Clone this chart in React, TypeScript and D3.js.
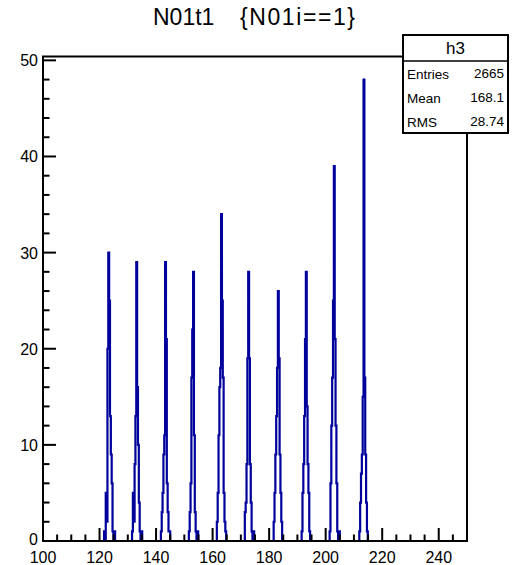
import React from "react";
import * as d3 from "d3";

// ---- data ----
const xDomain = [100, 250];
const yMaxValue = 50.4;
const binWidth = 0.3;
const xTicksMajor = [100, 120, 140, 160, 180, 200, 220, 240];
const yTicksMajor = [0, 10, 20, 30, 40, 50];

const peakStarts = [121.5, 131.5, 141.6, 151.5, 161.5, 171.3, 181.5, 191.5, 201.5, 211.8];
const peak1 = [1, 0, 5, 2, 20, 30, 25, 13, 9, 6, 1, 0, 1];
const peak2 = [1, 5, 2, 8, 13, 29, 16, 10, 4, 1, 0, 1];
const peak3 = [1, 3, 5, 9, 11, 29, 21, 6, 3, 1, 1];
const peak4 = [1, 3, 6, 17, 22, 28, 11, 3, 1, 0, 1];
const peak5 = [2, 5, 11, 16, 18, 34, 25, 17, 5, 2, 1];
const peak6 = [3, 4, 8, 19, 28, 19, 8, 4, 1, 0, 1];
const peak7 = [2, 5, 9, 13, 18, 26, 19, 9, 5, 2];
const peak8 = [1, 5, 8, 13, 21, 28, 14, 8, 5, 1];
const peak9 = [1, 6, 12, 17, 25, 39, 21, 12, 6, 1, 0, 1];
const peak10 = [1, 4, 7, 9, 15, 48, 17, 9, 4, 1];
const peaks = [peak1, peak2, peak3, peak4, peak5, peak6, peak7, peak8, peak9, peak10];

const titleLeft = "N01t1";
const titleRight = "{N01i==1}";
const statsName = "h3";
const statsLabels = ["Entries", "Mean", "RMS"];
const statsValues = ["2665", "168.1", "28.74"];

// ---- layout ----
const W = 514;
const H = 565;
const fL = 43, fR = 467, fT = 56.5, fB = 541;
const FONT = "Liberation Sans, Arimo, Helvetica, Arial, sans-serif";
const BLUE = "#00009c";

export default function App() {
  const x = d3.scaleLinear().domain(xDomain).range([fL, fR]);
  const y = d3.scaleLinear().domain([0, yMaxValue]).range([fB, fT]);

  const nBins = Math.round((xDomain[1] - xDomain[0]) / binWidth);
  const counts: number[] = new Array(nBins).fill(0);
  peaks.forEach((arr, p) => {
    const s = Math.round((peakStarts[p] - xDomain[0]) / binWidth);
    arr.forEach((v, i) => {
      counts[s + i] = v;
    });
  });
  const pts: [number, number][] = counts.map((c, i) => [xDomain[0] + i * binWidth, c]);
  pts.push([xDomain[1], counts[nBins - 1]]);
  const line = d3
    .line<[number, number]>()
    .x((d) => x(d[0]))
    .y((d) => y(d[1]))
    .curve(d3.curveStepAfter);

  const xMinor = d3.range(100, 250.01, 5).filter((v) => v % 20 !== 0);
  const yMinor = d3.range(0, 50.01, 2).filter((v) => v % 10 !== 0);

  const boxL = 403, boxR = 508, boxT = 35, boxB = 133, sep = 61;

  return (
    <svg width={W} height={H} style={{ position: "absolute", left: 0, top: 0, background: "#fff", fontFamily: FONT }}>
      <rect x={0} y={0} width={W} height={H} fill="#fff" />
      <defs>
        <clipPath id="frameClip">
          <rect x={fL} y={fT - 2} width={fR - fL} height={fB - fT + 2} />
        </clipPath>
      </defs>
      <text x={153} y={25} style={{ fontFamily: FONT }} fontSize={23} fill="#000">
        {titleLeft}
      </text>
      <text x={240} y={25} style={{ fontFamily: FONT }} fontSize={23} fill="#000" textLength={115} lengthAdjust="spacing">
        {titleRight}
      </text>

      <path d={line(pts) || ""} fill="none" stroke={BLUE} strokeWidth={2.2} clipPath="url(#frameClip)" />

      {/* frame */}
      <rect x={fL} y={fT} width={fR - fL} height={fB - fT} fill="none" stroke="#000" strokeWidth={2} />

      {/* x ticks */}
      {xTicksMajor.map((t) => (
        <g key={"xm" + t}>
          <line x1={x(t)} x2={x(t)} y1={fB} y2={fB - 13} stroke="#000" strokeWidth={2} />
          <text x={x(t)} y={563} textAnchor="middle" style={{ fontFamily: FONT }} fontSize={16} fill="#000">
            {t}
          </text>
        </g>
      ))}
      {xMinor.map((t) => (
        <line key={"xn" + t} x1={x(t)} x2={x(t)} y1={fB} y2={fB - 6.5} stroke="#000" strokeWidth={2} />
      ))}

      {/* y ticks */}
      {yTicksMajor.map((t) => (
        <g key={"ym" + t}>
          <line x1={fL} x2={fL + 13} y1={y(t)} y2={y(t)} stroke="#000" strokeWidth={2} />
          <text x={38} y={y(t) + (t === 0 ? 4 : 6)} textAnchor="end" style={{ fontFamily: FONT }} fontSize={16} fill="#000">
            {t}
          </text>
        </g>
      ))}
      {yMinor.map((t) => (
        <line key={"yn" + t} x1={fL} x2={fL + 6.5} y1={y(t)} y2={y(t)} stroke="#000" strokeWidth={2} />
      ))}

      {/* stats box */}
      <rect x={boxL} y={boxT} width={boxR - boxL} height={boxB - boxT} fill="#fff" stroke="#000" strokeWidth={2} />
      <line x1={boxL} x2={boxR} y1={sep} y2={sep} stroke="#000" strokeWidth={1.5} />
      <text x={(boxL + boxR) / 2} y={54} textAnchor="middle" style={{ fontFamily: FONT }} fontSize={17} fill="#000">
        {statsName}
      </text>
      {statsLabels.map((l, i) => (
        <g key={l}>
          <text x={407} y={79 + i * 24} style={{ fontFamily: FONT }} fontSize={13.5} fill="#000">
            {l}
          </text>
          <text x={504} y={78 + i * 24} textAnchor="end" style={{ fontFamily: FONT }} fontSize={13.5} fill="#000">
            {statsValues[i]}
          </text>
        </g>
      ))}
    </svg>
  );
}
